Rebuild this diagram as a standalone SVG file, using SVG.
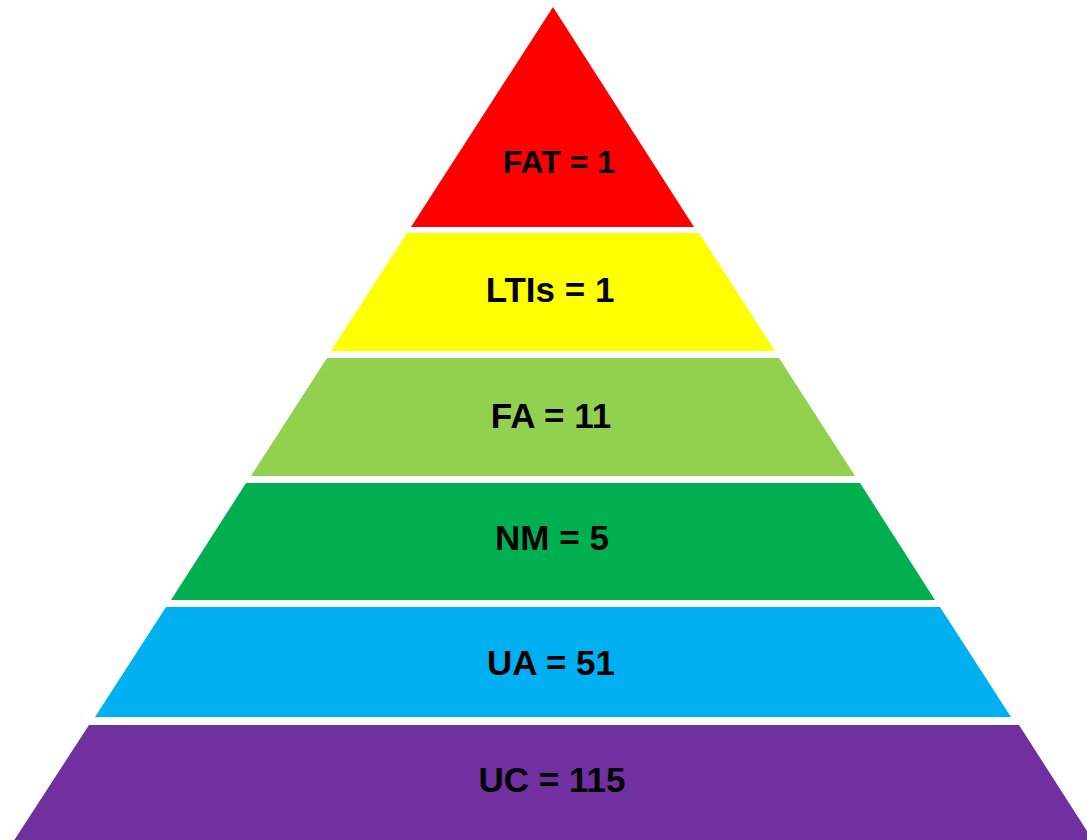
<svg xmlns="http://www.w3.org/2000/svg" width="1087" height="840" viewBox="0 0 1087 840">
<style>
.lbl{font-family:"Liberation Sans",Arial,sans-serif;font-weight:bold;font-size:35px;fill:#000;text-anchor:middle}
</style>
<rect x="0" y="0" width="1087" height="840" fill="#fff"/>
<g id="layer-fat">
<polygon points="553,7 694,227 411,227" fill="#FF0000"/>
<text class="lbl" x="559" y="173" style="font-size:32px">FAT = 1</text>
</g>
<g id="layer-ltis">
<polygon points="407,233 699,233 775,351 331,351" fill="#FFFF00"/>
<text class="lbl" x="550" y="302">LTIs = 1</text>
</g>
<g id="layer-fa">
<polygon points="327,358 779,358 855,476 251,476" fill="#92D050"/>
<text class="lbl" x="551" y="428">FA = 11</text>
</g>
<g id="layer-nm">
<polygon points="246,483 860,483 935,600 171,600" fill="#00B050"/>
<text class="lbl" x="552" y="550">NM = 5</text>
</g>
<g id="layer-ua">
<polygon points="166,607 940,607 1011,717 95,717" fill="#00B0F0"/>
<text class="lbl" x="551" y="675">UA = 51</text>
</g>
<g id="layer-uc">
<polygon points="89,725 1019,725 1094,842 13,842" fill="#7030A0"/>
<text class="lbl" x="552" y="792">UC = 115</text>
</g>
</svg>
